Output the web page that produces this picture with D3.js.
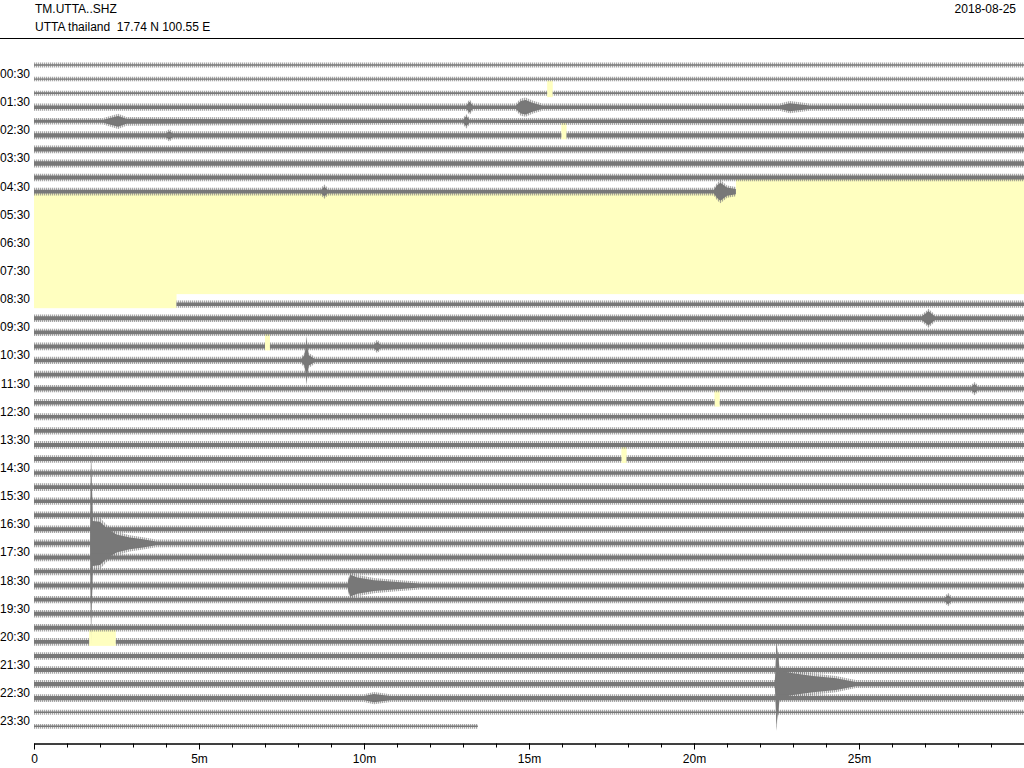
<!DOCTYPE html>
<html><head><meta charset="utf-8">
<script src="https://cdn.jsdelivr.net/npm/d3@7"></script>
<style>
body{margin:0;background:#fff}
svg{display:block}
text{font-family:"Liberation Sans",Arial,Helvetica,sans-serif;font-size:12px;fill:#000;white-space:pre}
</style>
</head><body>
<svg id="chart" width="1024" height="768"></svg>
<script>
// ---------------- data ----------------
const stationCode = "TM.UTTA..SHZ";
const stationInfo = "UTTA thailand  17.74 N 100.55 E";
const dayLabel = "2018-08-25";

// one trace per half hour (trace start times, hours)
const traceHours = [0,0.5,1,1.5,2,2.5,3,3.5,4,4.5,5,5.5,6,6.5,7,7.5,8,8.5,9,9.5,10,10.5,11,11.5,
                    12,12.5,13,13.5,14,14.5,15,15.5,16,16.5,17,17.5,18,18.5,19,19.5,20,20.5,21,21.5,22,22.5,23,23.5];
const rowLabels = ["00:30","01:30","02:30","03:30","04:30","05:30","06:30","07:30","08:30","09:30","10:30","11:30",
                   "12:30","13:30","14:30","15:30","16:30","17:30","18:30","19:30","20:30","21:30","22:30","23:30"];
const rowLabelHours = [0.5,1.5,2.5,3.5,4.5,5.5,6.5,7.5,8.5,9.5,10.5,11.5,12.5,13.5,14.5,15.5,16.5,17.5,18.5,19.5,20.5,21.5,22.5,23.5];

// background noise level of each trace (counts)
const baseNoise = [90, 70, 90, 200, 170, 240, 230, 240, 220, 220,
                   0, 0, 0, 0, 0, 0, 0,
                   200, 220, 200, 220, 200, 210, 200, 200, 200, 210, 220, 220, 200,
                   220, 200, 210, 220, 220, 220, 200, 220, 210, 210, 220, 220,
                   220, 220, 240, 230, 90, 80];

// missing data (trace index, from minute, to minute)
const gaps = [[2,15.55,15.72],[5,15.98,16.14],[9,21.27,30],[10,0,30],[11,0,30],[12,0,30],[13,0,30],
              [14,0,30],[15,0,30],[16,0,30],[17,0,4.32],[20,7.0,7.15],[24,20.62,20.78],
              [28,17.8,17.96],[41,1.67,2.48]];
// data of the last trace stops here (minute)
const lastTraceEnd = 13.45;

// signal envelopes: trace index, [minute, amplitude counts]
const events = [
  [3,  [[13.1,0],[13.2,600],[13.3,0]]],
  [3,  [[14.6,0],[14.75,700],[14.9,800],[15.1,500],[15.4,0]]],
  [3,  [[22.6,0],[22.9,450],[23.5,0]]],
  [4,  [[2.1,0],[2.55,600],[2.8,280],[30,280]]],
  [4,  [[13.0,0],[13.1,550],[13.2,0]]],
  [5,  [[4.0,0],[4.1,450],[4.2,0]]],
  [9,  [[8.7,0],[8.8,550],[8.9,0]]],
  [9,  [[20.6,0],[20.7,700],[20.8,1000],[21.0,450],[21.27,300]]],
  [18, [[26.9,0],[27.05,600],[27.1,800],[27.3,0]]],
  [20, [[10.3,0],[10.4,500],[10.5,0]]],
  [21, [[8.1,0],[8.2,600],[8.26,2300],[8.32,600],[8.5,0]]],
  [23, [[28.4,0],[28.5,500],[28.6,0]]],
  [34, [[1.70,0],[1.73,10000],[1.78,2500],[2.0,2400],[2.2,1700],[2.5,1000],[2.9,650],[3.3,450],[3.7,0]]],
  [37, [[9.5,0],[9.58,1200],[9.8,900],[10.3,600],[11.0,400],[11.7,0]]],
  [38, [[27.6,0],[27.7,500],[27.8,0]]],
  [44, [[22.45,0],[22.5,4500],[22.6,1500],[23.0,1200],[23.6,900],[24.3,650],[24.9,0]]],
  [45, [[10.0,0],[10.3,450],[10.8,0]]]
];

const minorTicks = [0,1,2,3,4,5,6,7,8,9,10,11,12,13,14,15,16,17,18,19,20,21,22,23,24,25,26,27,28,29];
const majorTicks = [0,5,10,15,20,25];
const majorTickLabels = ["0","5m","10m","15m","20m","25m"];

// ---------------- drawing ----------------
const svg = d3.select("#chart");
const W = 1024, H = 768;
const x = d3.scaleLinear().domain([0, 30]).range([34, 1024]);
const y = d3.scaleLinear().domain([0, 23.5]).range([65, 726.3]);
const amp = d3.scaleLinear().domain([0, 100]).range([0, 1]);
const traceColor = "#787878";
const gapColor = "#ffffc0";

// hairline texture used for the spiky fringe of each trace
const defs = svg.append("defs");
const pat = defs.append("pattern").attr("id", "hairs").attr("patternUnits", "userSpaceOnUse")
  .attr("width", 2).attr("height", 8);
pat.append("rect").attr("x", 0).attr("y", 0).attr("width", 1).attr("height", 8).attr("fill", traceColor);

// header
svg.append("text").attr("x", 35).attr("y", 13).text(stationCode);
svg.append("text").attr("x", 35).attr("y", 31).text(stationInfo);
svg.append("text").attr("x", 1016).attr("y", 13).attr("text-anchor", "end").text(dayLabel);
svg.append("line").attr("x1", 0).attr("x2", W).attr("y1", 38.5).attr("y2", 38.5)
   .attr("stroke", "#000").attr("stroke-width", 1);

// gaps
svg.append("g").selectAll("rect").data(gaps).join("rect")
  .attr("x", d => x(d[1]))
  .attr("width", d => x(d[2]) - x(d[1]))
  .attr("y", d => y(traceHours[d[0]]) - 12.5)
  .attr("height", 16.5)
  .attr("fill", gapColor);

// traces
function segmentsFor(i) {
  let segs = [[0, i === traceHours.length - 1 ? lastTraceEnd : 30]];
  gaps.filter(g => g[0] === i).forEach(g => {
    const out = [];
    segs.forEach(([s, e]) => {
      if (g[2] <= s || g[1] >= e) { out.push([s, e]); return; }
      if (g[1] > s) out.push([s, g[1]]);
      if (g[2] < e) out.push([g[2], e]);
    });
    segs = out;
  });
  return segs.filter(([s, e]) => e - s > 0.001);
}

const traceG = svg.append("g");
traceHours.forEach((h, i) => {
  const base = baseNoise[i];
  const yc = y(h);
  const evs = events.filter(e => e[0] === i);
  segmentsFor(i).forEach(([s, e]) => {
    let pts = [[s, base]];
    evs.forEach(ev => ev[1].forEach(([m, a]) => {
      if (m > s && m < e) pts.push([m, Math.max(base, a)]);
    }));
    pts.push([e, base]);
    pts.sort((a, b) => a[0] - b[0]);
    const lastEv = evs.map(ev => ev[1][ev[1].length - 1]).find(v => v[0] >= e && v[1] > 0);
    if (lastEv) pts[pts.length - 1] = [e, Math.max(base, lastEv[1])];
    const fringe = d3.area().x(d => x(d[0]))
      .y0(d => yc + amp(d[1]) + 1.6).y1(d => yc - amp(d[1]) - 1.6);
    const core = d3.area().x(d => x(d[0]))
      .y0(d => yc + amp(d[1]) * 0.9).y1(d => yc - amp(d[1]) * 0.9);
    traceG.append("path").attr("d", fringe(pts)).attr("fill", traceColor).attr("opacity", 0.15);
    traceG.append("path").attr("d", fringe(pts)).attr("fill", "url(#hairs)").attr("opacity", 0.6);
    traceG.append("path").attr("d", core(pts)).attr("fill", traceColor);
  });
});

// row labels
svg.append("g").selectAll("text").data(rowLabels).join("text")
  .attr("x", 30).attr("y", (d, i) => y(rowLabelHours[i]) - 1)
  .attr("text-anchor", "end").text(d => d);

// x axis
const axisY = 743.5;
const minorAxis = d3.axisBottom(x).tickValues(minorTicks).tickSize(4).tickSizeOuter(0).tickFormat("");
const majorAxis = d3.axisBottom(x).tickValues(majorTicks).tickSize(6).tickSizeOuter(0).tickPadding(5)
  .tickFormat((d, i) => majorTickLabels[i]);
const gMinor = svg.append("g").attr("transform", `translate(0,${axisY})`).call(minorAxis);
const gMajor = svg.append("g").attr("transform", `translate(0,${axisY})`).call(majorAxis);
[gMinor, gMajor].forEach(g => {
  g.selectAll("path,line").attr("stroke", "#000");
  g.selectAll("text").attr("font-size", 12).attr("font-family", "Liberation Sans, Arial, sans-serif").attr("fill", "#000");
});
</script>
</body></html>
